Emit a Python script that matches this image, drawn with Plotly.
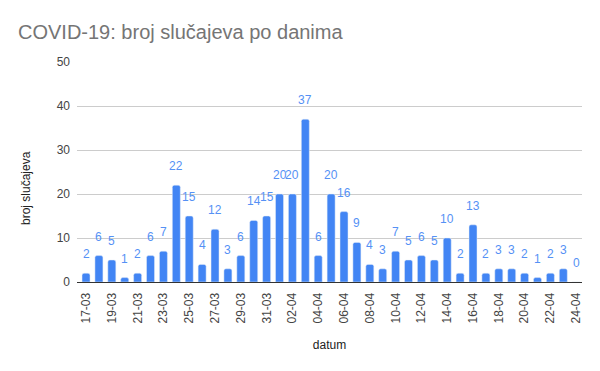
import plotly.graph_objects as go

dates = ["17-03", "18-03", "19-03", "20-03", "21-03", "22-03", "23-03", "24-03",
         "25-03", "26-03", "27-03", "28-03", "29-03", "30-03", "31-03", "01-04",
         "02-04", "03-04", "04-04", "05-04", "06-04", "07-04", "08-04", "09-04",
         "10-04", "11-04", "12-04", "13-04", "14-04", "15-04", "16-04", "17-04",
         "18-04", "19-04", "20-04", "21-04", "22-04", "23-04", "24-04"]
cases = [2, 6, 5, 1, 2, 6, 7, 22, 15, 4, 12, 3, 6, 14, 15, 20, 20, 37, 6, 20,
         16, 9, 4, 3, 7, 5, 6, 5, 10, 2, 13, 2, 3, 3, 2, 1, 2, 3, 0]
y_ticks = [0, 10, 20, 30, 40, 50]

FONT = "Liberation Sans, Arial, sans-serif"
W, H = 600, 371
x = list(range(len(dates)))

fig = go.Figure()
fig.add_trace(go.Bar(x=x, y=cases, marker_color="#4285F4", width=0.62,
                     hoverinfo="x+y"))

annotations = []
for xi, v in zip(x, cases):
    annotations.append(dict(x=xi, y=v, text=str(v), showarrow=False,
                            xref="x", yref="y", yanchor="bottom", yshift=10,
                            font=dict(family=FONT, size=12, color="#5591F5")))
# y-axis title (placed like the original, slightly below plot centre)
annotations.append(dict(text="broj slučajeva", textangle=-90, showarrow=False,
                        xref="paper", yref="paper",
                        x=(26 - 77) / (W - 77 - 18), y=(H - 89 - 188) / (H - 62 - 89),
                        xanchor="center", yanchor="middle",
                        font=dict(family=FONT, size=12, color="#222222")))

fig.update_layout(
    width=W, height=H,
    margin=dict(l=77, r=18, t=62, b=89, autoexpand=False),
    paper_bgcolor="white", plot_bgcolor="white",
    barcornerradius=2,
    showlegend=False,
    title=dict(text="COVID-19: broj slučajeva po danima", x=18 / W, xanchor="left",
               xref="container", yref="container",
               y=1 - 32 / H, yanchor="middle", pad=dict(l=0, r=0, t=0, b=0),
               font=dict(family=FONT, size=20, color="#757575")),
    annotations=annotations,
    font=dict(family=FONT, size=12, color="#444444"),
)
fig.update_xaxes(
    automargin=False,
    range=[-0.7, 38.45], tickmode="array", tickvals=x[::2], ticktext=dates[::2],
    tickangle=-90, ticks="", ticklabelstandoff=5,
    showline=True, linecolor="#333333", linewidth=1, showgrid=False,
    tickfont=dict(family=FONT, size=12, color="#444444"),
    title=dict(text="datum", standoff=18, font=dict(family=FONT, size=12, color="#222222")),
)
fig.update_yaxes(
    automargin=False,
    range=[0, 50], tickmode="array", tickvals=y_ticks, showgrid=True,
    gridcolor="#CCCCCC", zeroline=False, ticks="", ticklabelstandoff=6,
    tickfont=dict(family=FONT, size=12, color="#444444"),
)

fig.write_html("out.html", config={"displayModeBar": False},
               post_script="document.body.style.margin='0';")
